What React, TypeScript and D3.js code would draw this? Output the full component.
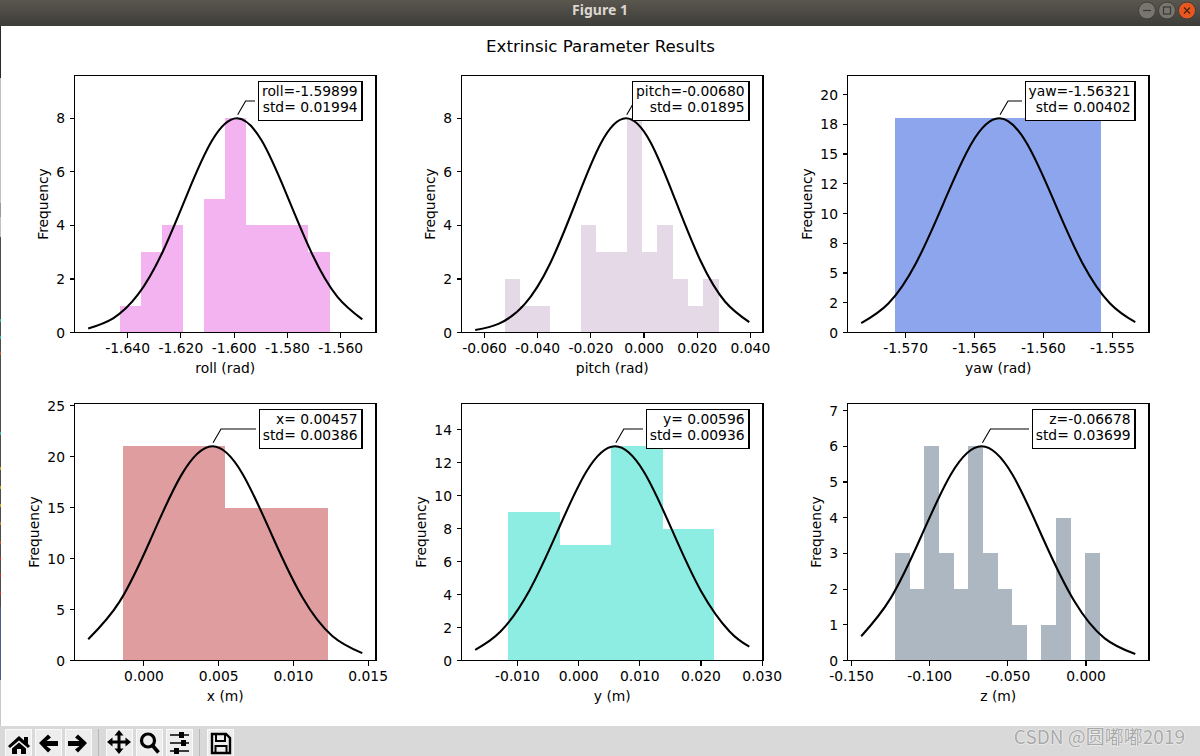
import React, { useEffect, useRef } from 'react'
import * as d3 from 'd3'

const FONT = '"DejaVu Sans", sans-serif'
const FONT_SIZE = 13.89

// roll
const rollEdges = [-1.6429, -1.635, -1.6271, -1.6193, -1.6114, -1.6035, -1.5957, -1.5878, -1.5799, -1.5721, -1.5642]
const rollCounts = [1, 3, 4, 0, 5, 8, 4, 4, 4, 3]
const rollCurveX = [-1.6548, -1.64545, -1.63608, -1.62691, -1.61753, -1.60836, -1.59899, -1.58962, -1.58025, -1.57068, -1.5613, -1.5519]
const rollCurveY = [0.15, 0.53, 1.42, 3.0, 5.19, 7.16, 8, 7.16, 5.14, 2.92, 1.34, 0.49]
const rollTicks = [-1.64, -1.62, -1.6, -1.58, -1.56]

// pitch
const pitchEdges = [-0.05245, -0.0467, -0.04095, -0.0352, -0.02945, -0.02369, -0.01794, -0.01219, -0.00644, -0.00069, 0.00506, 0.01081, 0.01656, 0.02231, 0.02806]
const pitchCounts = [2, 1, 1, 0, 0, 4, 3, 3, 8, 3, 4, 2, 1, 2]
const pitchCurveX = [-0.0635, -0.05455, -0.04489, -0.03541, -0.02594, -0.01628, -0.0068, 0.00249, 0.01177, 0.02125, 0.03053, 0.0396]
const pitchCurveY = [0.09, 0.33, 1.06, 2.56, 4.8, 7.06, 8, 7.1, 4.95, 2.68, 1.15, 0.39]
const pitchTicks = [-0.06, -0.04, -0.02, 0, 0.02, 0.04]

// yaw
const yawEdges = [-1.5708, -1.5633, -1.5558]
const yawCounts = [18, 18]
const yawCurveX = [-1.57322, -1.57125, -1.56924, -1.56723, -1.56522, -1.56321, -1.5612, -1.55919, -1.55718, -1.55517, -1.55334]
const yawCurveY = [0.79, 2.44, 5.85, 10.92, 15.89, 18, 15.89, 10.92, 5.85, 2.44, 0.87]
const yawTicks = [-1.57, -1.565, -1.56, -1.555]
const yawYTicks = [0, 2.5, 5, 7.5, 10, 12.5, 15, 17.5, 20]
const yawYLabels = ['0', '2', '5', '8', '10', '12', '15', '18', '20']

// x
const xEdges = [-0.00142, 0.00542, 0.01233]
const xCounts = [21, 15]
const xCurveX = [-0.00373, -0.00164, 0.0004, 0.00249, 0.00457, 0.00658, 0.00858, 0.01059, 0.0126, 0.01461]
const xCurveY = [2.08, 5.75, 11.72, 18.15, 21, 18.34, 12.23, 6.22, 2.41, 0.72]
const xTicks = [0, 0.005, 0.01, 0.015]

// y
const yEdges = [-0.01151, -0.003, 0.00535, 0.01386, 0.02221]
const yCounts = [9, 7, 13, 8]
const yCurveX = [-0.0169, -0.01276, -0.00808, -0.0034, 0.00128, 0.00596, 0.01064, 0.01532, 0.02, 0.02468, 0.0279]
const yCurveY = [0.65, 1.76, 4.22, 7.88, 11.47, 13, 11.47, 7.88, 4.22, 1.76, 0.84]
const yTicks = [-0.01, 0, 0.01, 0.02, 0.03]

// z
const zEdges = [-0.1221, -0.1128, -0.1034, -0.094, -0.0847, -0.0753, -0.0659, -0.0566, -0.0472, -0.0379, -0.0285, -0.0191, -0.0098, -0.0004, 0.009]
const zCounts = [3, 2, 6, 3, 2, 6, 3, 2, 1, 0, 1, 4, 0, 3]
const zCurveX = [-0.1438, -0.12504, -0.10562, -0.0862, -0.06678, -0.0471, -0.02742, -0.00774, 0.01193, 0.0315]
const zCurveY = [0.68, 1.74, 3.46, 5.23, 6, 5.21, 3.41, 1.68, 0.62, 0.18]
const zTicks = [-0.15, -0.1, -0.05, 0]

const panels = [
  { name: 'roll', unit: 'rad', mean: -1.59899, std: 0.01994, color: '#f3b3f1', edges: rollEdges, counts: rollCounts, curveX: rollCurveX, curveY: rollCurveY, ticks: rollTicks, yTicks: [0, 2, 4, 6, 8] },
  { name: 'pitch', unit: 'rad', mean: -0.0068, std: 0.01895, color: '#e5d8e7', edges: pitchEdges, counts: pitchCounts, curveX: pitchCurveX, curveY: pitchCurveY, ticks: pitchTicks, yTicks: [0, 2, 4, 6, 8] },
  { name: 'yaw', unit: 'rad', mean: -1.56321, std: 0.00402, color: '#8ca5ec', edges: yawEdges, counts: yawCounts, curveX: yawCurveX, curveY: yawCurveY, ticks: yawTicks, yTicks: yawYTicks, yLabels: yawYLabels },
  { name: 'x', unit: 'm', mean: 0.00457, std: 0.00386, color: '#e09d9f', edges: xEdges, counts: xCounts, curveX: xCurveX, curveY: xCurveY, ticks: xTicks, yTicks: [0, 5, 10, 15, 20, 25] },
  { name: 'y', unit: 'm', mean: 0.00596, std: 0.00936, color: '#8eede2', edges: yEdges, counts: yCounts, curveX: yCurveX, curveY: yCurveY, ticks: yTicks, yTicks: [0, 2, 4, 6, 8, 10, 12, 14] },
  { name: 'z', unit: 'm', mean: -0.06678, std: 0.03699, color: '#acb7c2', edges: zEdges, counts: zCounts, curveX: zCurveX, curveY: zCurveY, ticks: zTicks, yTicks: [0, 1, 2, 3, 4, 5, 6, 7] },
]

const colLefts = [74.5, 461.5, 847.5]
const rowTops = [75.5, 403.5]
const plotW = 301.5
const plotH = 257

const leftStrip: [number, number, string][] = [
  [26, 78, '#2a2a2a'], [78, 203, '#c2c2c2'], [203, 217, '#9a9a9a'], [217, 237, '#c2c2c2'],
  [237, 607, '#4c4c4a'], [319, 322, '#22b8a8'], [336, 339, '#22b8a8'], [352, 355, '#c8501e'],
  [432, 435, '#22b8a8'], [467, 470, '#c8a810'], [486, 489, '#c8a810'], [504, 507, '#c8a810'],
  [522, 525, '#c8781e'], [541, 544, '#c8501e'], [557, 560, '#d02a1e'], [574, 577, '#d02a1e'],
  [592, 595, '#d02a1e'], [607, 680, '#4d5c8e'], [680, 726, '#c8c8c8'],
]

const buttonXs = [5, 35, 65, 106, 136, 166, 207]
const separatorXs = [98, 199]

function drawPanel(root: d3.Selection<SVGGElement, unknown, null, undefined>, p: any, i: number) {
  const left = colLefts[i % 3]
  const top = rowTops[Math.floor(i / 3)]
  const [lo, hi] = d3.extent(p.curveX) as [number, number]
  const pad = (hi - lo) * 0.05
  const x = d3.scaleLinear().domain([lo - pad, hi + pad]).range([0, plotW])
  const peak = d3.max(p.counts) as number
  const y = d3.scaleLinear().domain([0, peak * 1.2]).range([plotH, 0])

  const g = root.append('g').attr('transform', `translate(${left},${top})`)

  // histogram bars
  g.append('g')
    .selectAll('rect')
    .data(p.counts as number[])
    .join('rect')
    .attr('x', (_, k) => x(p.edges[k]))
    .attr('width', (_, k) => x(p.edges[k + 1]) - x(p.edges[k]))
    .attr('y', d => y(d))
    .attr('height', d => plotH - y(d))
    .attr('fill', p.color)
    .attr('shape-rendering', 'crispEdges')

  // fitted curve
  const line = d3.line<number>()
    .x((_, k) => x(p.curveX[k]))
    .y(d => y(d))
    .curve(d3.curveNatural)
  g.append('path')
    .attr('d', line(p.curveY))
    .attr('fill', 'none')
    .attr('stroke', '#000')
    .attr('stroke-width', 2.08)

  // spines
  g.append('rect')
    .attr('width', plotW).attr('height', plotH)
    .attr('fill', 'none').attr('stroke', '#000').attr('stroke-width', 1.1)
    .attr('shape-rendering', 'crispEdges')

  const xAxis = g.append('g')
    .attr('transform', `translate(0,${plotH})`)
    .call(d3.axisBottom(x).tickValues(p.ticks).tickSizeOuter(0).tickSize(5).tickPadding(5.3).offset(0)
      .tickFormat(d => (d as number).toFixed(3)))

  const yAxis = g.append('g')
    .call(d3.axisLeft(y).tickValues(p.yTicks).tickSizeOuter(0).tickSize(5).tickPadding(4.5).offset(0)
      .tickFormat((d, k) => (p.yLabels ? p.yLabels[k] : String(d))))

  for (const axis of [xAxis, yAxis]) {
    axis.select('.domain').remove()
    axis.selectAll('line').attr('stroke', '#000').attr('stroke-width', 1.1).attr('shape-rendering', 'crispEdges')
    axis.selectAll('text').attr('fill', '#000').attr('font-family', FONT).attr('font-size', FONT_SIZE)
  }
  yAxis.selectAll('text').attr('dy', '0.36em')

  g.append('text')
    .attr('x', plotW / 2).attr('y', plotH + 40.5)
    .attr('text-anchor', 'middle')
    .attr('font-family', FONT).attr('font-size', FONT_SIZE)
    .text(`${p.name} (${p.unit})`)

  const tickLeft = (yAxis.node() as SVGGElement).getBBox().x
  g.append('text')
    .attr('transform', `translate(${tickLeft - 8.6},${plotH / 2}) rotate(-90)`)
    .attr('text-anchor', 'middle')
    .attr('font-family', FONT).attr('font-size', FONT_SIZE)
    .text('Frequency')

  // annotation: box size comes from the text width
  const boxRight = plotW - 14
  const boxTop = 6
  const boxH = 39
  const lines = [
    `${p.name}=${p.mean >= 0 ? ' ' : ''}${p.mean.toFixed(5)}`,
    `std= ${p.std.toFixed(5)}`,
  ]
  const sx = x(p.mean) + 0.8
  const sy = y(peak) - 3.5
  const by = boxTop + boxH / 2
  const bx = sx + (sy - by) * 0.577
  const leader = g.append('path')
    .attr('fill', 'none').attr('stroke', '#000').attr('stroke-width', 1.1)

  const note = g.append('g')
  const rect = note.append('rect')
  const label = note.append('text')
    .attr('text-anchor', 'end')
    .attr('font-family', FONT).attr('font-size', FONT_SIZE)
  lines.forEach((t, k) => {
    label.append('tspan')
      .attr('x', boxRight - 4.4)
      .attr('y', boxTop + 14.4 + k * 16)
      .text(t)
  })
  const textW = (label.node() as SVGTextElement).getBBox().width
  const boxLeft = Math.round(boxRight - textW - 7.5)
  rect.attr('x', boxLeft).attr('y', boxTop).attr('width', boxRight - boxLeft).attr('height', boxH)
    .attr('fill', '#fff').attr('stroke', '#000').attr('stroke-width', 1.1)
    .attr('shape-rendering', 'crispEdges')
  leader.attr('d', `M${sx},${sy}L${bx},${by}L${Math.max(bx, boxLeft - 3.5)},${by}`)
}

function Toolbar() {
  return (
    <g>
      <rect x={0} y={726} width={1200} height={30} fill="#d9d9d9" />
      {separatorXs.map(sx => <rect key={sx} x={sx} y={729} width={1} height={27} fill="#b8b8b8" />)}
      {buttonXs.map(bx => (
        <g key={bx}>
          <rect x={bx} y={729} width={27} height={27} fill="#ededed" />
          <path d={`M${bx + 0.5},756V729.5H${bx + 26.5}V756`} fill="none" stroke="#fafafa" />
        </g>
      ))}
      {/* home */}
      <path d="M8,746L19,736L24,740.5V737H28V744L30,746L28,748L19,740.5L10,748Z M12,748.5L19,742.5L26,748.5V754H21V749H17V754H12Z" fill="#000" />
      {/* back / forward */}
      <path d="M39,743L48,734.5L51,737.5L46.5,741H58V746H46.5L51,749.5L48,752.5Z" fill="#000" />
      <path d="M87,743L78,734.5L75,737.5L79.5,741H68V746H79.5L75,749.5L78,752.5Z" fill="#000" />
      {/* move */}
      <path d="M119,733V751M110,742H128" stroke="#000" strokeWidth={3} />
      <path d="M119,730L123.5,735.5H114.5Z M119,754L123.5,748.5H114.5Z M107,742L112.5,737.5V746.5Z M131,742L125.5,737.5V746.5Z" fill="#000" />
      {/* zoom */}
      <circle cx={148} cy={740.5} r={6.5} fill="none" stroke="#000" strokeWidth={3.2} />
      <path d="M152.5,745.5L158.5,752.5" stroke="#000" strokeWidth={3.6} />
      {/* sliders */}
      <path d="M170,735H189M170,743H189M170,751H189" stroke="#000" strokeWidth={1.6} />
      <rect x={179} y={732} width={5} height={6} fill="#000" />
      <rect x={181} y={740} width={5} height={6} fill="#000" />
      <rect x={174} y={748} width={5} height={6} fill="#000" />
      {/* save */}
      <path d="M212,734H226L230,738V753H212Z" fill="none" stroke="#000" strokeWidth={2.4} />
      <path d="M216,734V741H225V734" fill="none" stroke="#000" strokeWidth={2} />
      <path d="M215.5,753V746H226.5V753" fill="none" stroke="#000" strokeWidth={2} />
      <text x={1185} y={744} textAnchor="end" fontFamily='"Noto Sans CJK SC", sans-serif' fontSize={19}
        fill="#a9a9a9" stroke="#ffffff" strokeOpacity={0.7} strokeWidth={1.2} paintOrder="stroke">CSDN @圆嘟嘟2019</text>
    </g>
  )
}

function TitleBar() {
  return (
    <g>
      <defs>
        <linearGradient id="titlebar" x1="0" y1="0" x2="0" y2="1">
          <stop offset="0" stopColor="#5a574f" />
          <stop offset="1" stopColor="#3d3c38" />
        </linearGradient>
      </defs>
      <rect x={0} y={0} width={1200} height={26} fill="url(#titlebar)" />
      <text x={600} y={15} textAnchor="middle" fontFamily='"Noto Sans", sans-serif' fontWeight="bold" fontSize={14} fill="#dcd8d0">Figure 1</text>
      <circle cx={1147} cy={10.5} r={8.5} fill="#77756e" stroke="#3e3d39" />
      <path d="M1143,10.5H1151" stroke="#3a3935" strokeWidth={1.2} />
      <circle cx={1167} cy={10.5} r={8.5} fill="#77756e" stroke="#3e3d39" />
      <rect x={1163.5} y={7} width={7} height={7} fill="none" stroke="#3a3935" strokeWidth={1.2} />
      <circle cx={1187} cy={10.5} r={8.5} fill="#e9561f" stroke="#3e3d39" />
      <path d="M1184,7.5L1190,13.5M1190,7.5L1184,13.5" stroke="#4a2410" strokeWidth={1.2} />
    </g>
  )
}

export default function App() {
  const ref = useRef<SVGGElement>(null)

  useEffect(() => {
    const root = d3.select(ref.current as SVGGElement)
    root.selectAll('*').remove()
    panels.forEach((p, i) => drawPanel(root, p, i))
  }, [])

  return (
    <svg width={1200} height={756} style={{ position: 'absolute', left: 0, top: 0, display: 'block', background: '#fff' }}>
      <TitleBar />
      {leftStrip.map(([a, b, c]) => <rect key={a} x={0} y={a} width={1} height={b - a} fill={c} />)}
      <text x={600.5} y={52} textAnchor="middle" fontFamily={FONT} fontSize={16.67} fill="#000">Extrinsic Parameter Results</text>
      <g ref={ref} />
      <Toolbar />
    </svg>
  )
}
